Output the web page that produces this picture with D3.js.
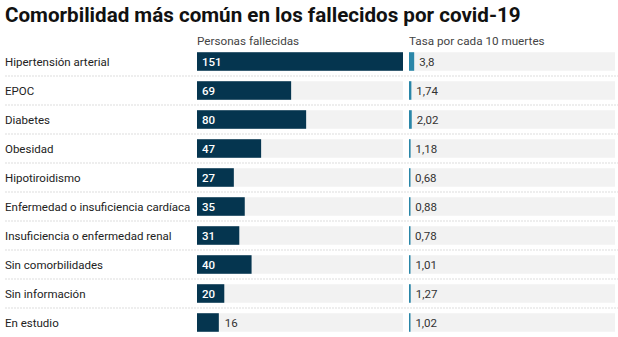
<!DOCTYPE html>
<html>
<head>
<meta charset="utf-8">
<script src="https://cdn.jsdelivr.net/npm/d3@7"></script>
<style>
  body { margin: 0; background: #fff; font-family: Roboto, sans-serif; }
</style>
</head>
<body>
<div id="chart"></div>
<script>
const categories = ['Hipertensión arterial', 'EPOC', 'Diabetes', 'Obesidad', 'Hipotiroidismo',
  'Enfermedad o insuficiencia cardíaca', 'Insuficiencia o enfermedad renal', 'Sin comorbilidades',
  'Sin información', 'En estudio']
const deaths = [151, 69, 80, 47, 27, 35, 31, 40, 20, 16]
const rates = [3.8, 1.74, 2.02, 1.18, 0.68, 0.88, 0.78, 1.01, 1.27, 1.02]
const columnTitles = ['Personas fallecidas', 'Tasa por cada 10 muertes']

const width = 618, height = 337
const svg = d3.select('#chart').append('svg')
  .attr('width', width)
  .attr('height', height)

svg.append('text')
  .attr('x', 5)
  .attr('y', 22)
  .text('Comorbilidad más común en los fallecidos por covid-19')
  .style('font-size', '20.6px')
  .style('font-weight', 'bold')
  .attr('fill', '#111')

const y = d3.scaleBand()
  .domain(categories)
  .range([47, 337])
  .paddingInner(0.36)
  .paddingOuter(0.18)

const x1 = d3.scaleLinear().domain([0, 151]).range([197, 403])
const x2 = d3.scaleLinear().domain([0, 151]).range([409, 615])

svg.selectAll('.colTitle')
  .data(columnTitles)
  .enter()
  .append('text')
  .attr('x', function(d, i) { return i === 0 ? x1(0) : x2(0) })
  .attr('y', 45)
  .text(d => d)
  .style('font-size', '11.7px')
  .attr('fill', '#444')

// separators
svg.selectAll('.sep')
  .data(categories.slice(0, -1))
  .enter()
  .append('line')
  .attr('x1', 5)
  .attr('x2', width)
  .attr('y1', d => y(d) + y.bandwidth() + y.step() * y.paddingInner() / 2)
  .attr('y2', d => y(d) + y.bandwidth() + y.step() * y.paddingInner() / 2)
  .attr('stroke', '#ddd')
  .attr('stroke-dasharray', '2,1')

const rows = svg.selectAll('.row')
  .data(categories)
  .enter()
  .append('g')

rows.append('text')
  .attr('x', 5)
  .attr('y', d => y(d) + y.bandwidth() / 2)
  .attr('dy', '0.35em')
  .text(d => d)
  .style('font-size', '11.5px')
  .attr('fill', '#222')

rows.append('rect')
  .attr('x', x1(0))
  .attr('y', d => y(d))
  .attr('width', x1(151) - x1(0))
  .attr('height', y.bandwidth())
  .attr('fill', '#f2f2f2')

rows.append('rect')
  .attr('x', x2(0))
  .attr('y', d => y(d))
  .attr('width', x2(151) - x2(0))
  .attr('height', y.bandwidth())
  .attr('fill', '#f2f2f2')

rows.append('rect')
  .attr('x', x1(0))
  .attr('y', d => y(d))
  .attr('width', (d, i) => x1(deaths[i]) - x1(0))
  .attr('height', y.bandwidth())
  .attr('fill', '#05354f')

rows.append('rect')
  .attr('x', x2(0))
  .attr('y', d => y(d))
  .attr('width', (d, i) => Math.max(1.5, x2(rates[i]) - x2(0)))
  .attr('height', y.bandwidth())
  .attr('fill', '#2a86a8')

rows.append('text')
  .attr('x', (d, i) => deaths[i] >= 20 ? x1(0) + 5 : x1(deaths[i]) + 6)
  .attr('y', d => y(d) + y.bandwidth() / 2)
  .attr('dy', '0.35em')
  .text((d, i) => deaths[i])
  .style('font-size', '11.5px')
  .style('font-weight', (d, i) => deaths[i] >= 20 ? '500' : '400')
  .attr('fill', (d, i) => deaths[i] >= 20 ? '#fff' : '#333')

rows.append('text')
  .attr('x', (d, i) => x2(rates[i]) + 5)
  .attr('y', d => y(d) + y.bandwidth() / 2)
  .attr('dy', '0.35em')
  .text((d, i) => String(rates[i]).replace('.', ','))
  .style('font-size', '11.5px')
  .attr('fill', '#333')
</script>
</body>
</html>
